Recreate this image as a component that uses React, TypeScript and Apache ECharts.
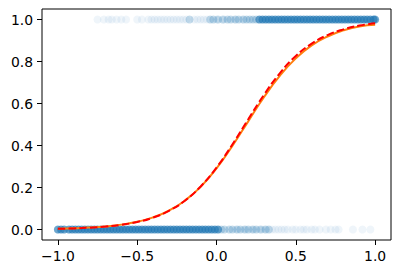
import React, { useEffect, useRef } from "react";
import * as echarts from "echarts";

// x positions of observations with label 0 (dense, medium and sparse parts)
const zeroDense = [-1.0, -0.98, -0.96, -0.93, -0.91, -0.89, -0.87, -0.85, -0.83, -0.81, -0.79, -0.77, -0.75, -0.73, -0.71, -0.69, -0.67, -0.65, -0.63, -0.61, -0.59, -0.57, -0.55, -0.53, -0.51, -0.49, -0.47, -0.45, -0.43, -0.41, -0.39, -0.37, -0.35, -0.33, -0.31, -0.29, -0.27, -0.25, -0.23, -0.21, -0.19, -0.17, -0.15, -0.13, -0.11, -0.09, -0.07, -0.05, -0.03, -0.01, 0.01];
const zeroMid = [0.03, 0.05, 0.08, 0.1, 0.13, 0.15, 0.18, 0.2, 0.23, 0.25, 0.28, 0.31, 0.33];
const zeroFaint = [0.12, 0.17, 0.22, 0.27, 0.3, 0.35, 0.37, 0.39, 0.41, 0.43, 0.45, 0.48, 0.5, 0.53, 0.55, 0.57, 0.6, 0.62, 0.65, 0.69, 0.72, 0.75, 0.77, 0.86, 0.92, 0.97];
// x positions of observations with label 1
const oneFaint = [-0.75, -0.71, -0.68, -0.66, -0.63, -0.6, -0.57, -0.5, -0.47, -0.43, -0.41, -0.39, -0.37, -0.35, -0.33, -0.31, -0.29, -0.27, -0.25, -0.23, -0.21, -0.19, -0.14, -0.12, -0.1, -0.08, -0.06, 0.0, 0.05, 0.11, 0.16];
const oneMid = [-0.17, -0.04, -0.02, 0.01, 0.04, 0.07, 0.09, 0.12, 0.14, 0.17, 0.19, 0.21, 0.23, 0.25];
const oneDense = [0.27, 0.29, 0.31, 0.33, 0.35, 0.37, 0.39, 0.41, 0.43, 0.45, 0.47, 0.49, 0.51, 0.53, 0.55, 0.57, 0.59, 0.61, 0.63, 0.65, 0.67, 0.69, 0.71, 0.73, 0.75, 0.77, 0.79, 0.81, 0.83, 0.85, 0.87, 0.89, 0.91, 0.93, 0.95, 0.97, 0.99, 1.0];

// logistic curves
const curveX = [-1.0, -0.9, -0.8, -0.7, -0.6, -0.5, -0.4, -0.3, -0.2, -0.1, 0.0, 0.1, 0.2, 0.3, 0.4, 0.5, 0.6, 0.7, 0.8, 0.9, 1.0];
const trueY = [0.0035, 0.0057, 0.0091, 0.0145, 0.0232, 0.0368, 0.0579, 0.0899, 0.137, 0.203, 0.291, 0.398, 0.515, 0.631, 0.733, 0.815, 0.877, 0.919, 0.948, 0.967, 0.975];
const fitY = [0.0033, 0.0053, 0.0086, 0.0138, 0.0223, 0.0358, 0.0568, 0.0891, 0.137, 0.205, 0.295, 0.405, 0.525, 0.642, 0.745, 0.826, 0.885, 0.926, 0.953, 0.971, 0.982];

const xTicks = [-1.0, -0.5, 0.0, 0.5, 1.0];
const yTicks = [0.0, 0.2, 0.4, 0.6, 0.8, 1.0];

const fmt = (v: number) => Number(v).toFixed(1).replace("-", "\u2212");

export default function App() {
  const ref = useRef<HTMLDivElement>(null);
  useEffect(() => {
    if (!ref.current) return;
    const chart = echarts.init(ref.current, null, { renderer: "svg" });
    const blue = "#1f77b4";
    const scatter = (xs: number[], y: number, op: number) => ({
      type: "scatter",
      data: xs.map((x) => [x, y]),
      symbol: "circle",
      symbolSize: 8,
      itemStyle: { color: blue, opacity: op },
      silent: true,
      z: 1,
    });
    const font = { fontFamily: "DejaVu Sans", fontSize: 13.9, color: "#000" };
    chart.setOption({
      animation: false,
      grid: {
        left: 42,
        right: 9,
        top: 9,
        bottom: 34,
        show: true,
        borderColor: "#000",
        borderWidth: 1,
        backgroundColor: "transparent",
      },
      xAxis: {
        type: "value",
        min: -1.1,
        max: 1.1,
        axisLine: { show: false, onZero: false },
        splitLine: { show: false },
        axisTick: { show: true, length: 5, lineStyle: { color: "#000", width: 1 }, customValues: xTicks },
        axisLabel: { ...font, margin: 9, customValues: xTicks, formatter: fmt },
      },
      yAxis: {
        type: "value",
        min: -0.05,
        max: 1.05,
        axisLine: { show: false, onZero: false },
        splitLine: { show: false },
        axisTick: { show: true, length: 5, lineStyle: { color: "#000", width: 1 }, customValues: yTicks },
        axisLabel: { ...font, margin: 9, customValues: yTicks, formatter: fmt },
      },
      series: [
        scatter(zeroDense, 0, 0.65),
        scatter(zeroMid, 0, 0.25),
        scatter(zeroFaint, 0, 0.07),
        scatter(oneFaint, 1, 0.07),
        scatter(oneMid, 1, 0.25),
        scatter(oneDense, 1, 0.65),
        {
          type: "line",
          data: curveX.map((x, i) => [x, trueY[i]]),
          smooth: true,
          showSymbol: false,
          lineStyle: { color: "#ff7f0e", width: 2 },
          z: 3,
        },
        {
          type: "line",
          data: curveX.map((x, i) => [x, fitY[i]]),
          smooth: true,
          showSymbol: false,
          lineStyle: { color: "#ff0000", width: 2, type: [7.5, 3.2] },
          z: 4,
        },
      ],
    });
    return () => chart.dispose();
  }, []);
  return (
    <div
      ref={ref}
      style={{ position: "fixed", left: 0, top: 0, width: 400, height: 274, background: "#fff" }}
    />
  );
}
